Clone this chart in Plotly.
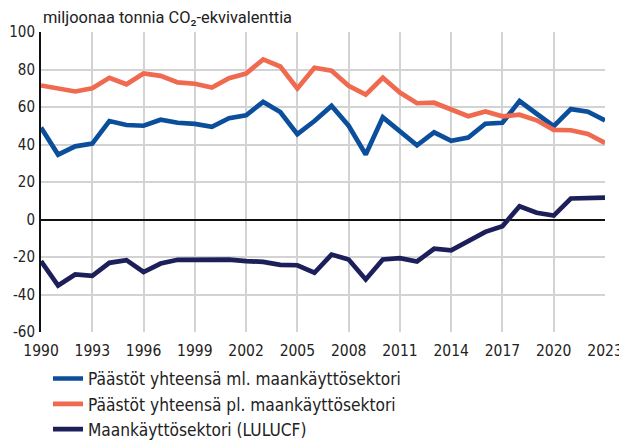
import plotly.graph_objects as go

years = list(range(1990, 2024))
x_ticks = list(range(1990, 2024, 3))
y_ticks = [-60, -40, -20, 0, 20, 40, 60, 80, 100]

# total emissions incl. land use sector
total_incl = [49.0, 34.6, 39.0, 40.5, 52.5, 50.4, 50.0, 53.2, 51.6, 51.0,
              49.4, 54.0, 55.6, 62.7, 57.3, 45.5, 52.5, 60.6, 50.0, 34.7,
              54.5, 47.2, 39.6, 46.5, 42.0, 43.7, 51.1, 51.6, 63.2, 56.4,
              49.8, 58.9, 57.5, 52.8]

# total emissions excl. land use sector
total_excl = [71.5, 69.6, 68.3, 70.0, 75.6, 72.1, 77.9, 76.6, 73.1, 72.4,
              70.4, 75.4, 77.8, 85.4, 81.6, 69.9, 80.9, 79.3, 71.3, 66.6,
              75.6, 67.7, 62.0, 62.3, 58.7, 55.1, 57.6, 55.0, 55.9, 52.9,
              47.8, 47.6, 45.6, 40.8]

# LULUCF
lulucf = [-22.2, -35.2, -29.3, -30.0, -23.1, -21.7, -28.0, -23.5, -21.5, -21.3,
          -21.0, -21.4, -22.2, -22.6, -24.2, -24.4, -28.4, -18.7, -21.3, -32.0,
          -21.3, -20.6, -22.4, -15.6, -16.5, -11.2, -6.6, -3.6, 7.1, 3.6,
          2.1, 11.2, 11.7, 11.7]

series_names = [
    "Päästöt yhteensä ml. maankäyttösektori",
    "Päästöt yhteensä pl. maankäyttösektori",
    "Maankäyttösektori (LULUCF)",
]
colors = ["#0b4f9c", "#ef6a4f", "#1d1f5b"]

narrow = "DejaVu Sans Condensed, Liberation Sans Narrow, sans-serif"

fig = go.Figure()
for name, vals, col in zip(series_names, [total_incl, total_excl, lulucf], colors):
    fig.add_trace(go.Scatter(
        x=years, y=vals, mode="lines", name=name,
        line=dict(color=col, width=4.7),
    ))

# page body has an 8px margin, so the figure is sized to fit the window
fig.update_layout(
    width=619, height=433,
    margin=dict(l=33, r=22, t=24, b=109, autoexpand=False),
    plot_bgcolor="white", paper_bgcolor="white",
    font=dict(family=narrow, size=16, color="#222"),
    showlegend=True,
    legend=dict(
        x=0.0124, y=-0.096, xanchor="left", yanchor="top",
        orientation="v", tracegroupgap=0, itemwidth=30,
        font=dict(family=narrow, size=17.2, color="#222"),
    ),
    annotations=[dict(
        text="miljoonaa tonnia CO₂-ekvivalenttia",
        xref="paper", yref="paper", x=0, y=1, xanchor="left", yanchor="bottom",
        yshift=3, showarrow=False,
        font=dict(family="Roboto, sans-serif", size=16.4, color="#222"),
    )],
)

fig.update_xaxes(
    range=[1990, 2023], tickmode="array", tickvals=x_ticks,
    showgrid=True, gridcolor="#d3d3d3", gridwidth=1.5,
    showline=False, zeroline=False, ticks="", automargin=False,
    ticklabelstandoff=7,
    tickfont=dict(family=narrow, size=15.5),
)
fig.update_yaxes(
    range=[-60, 100], tickmode="array", tickvals=y_ticks,
    ticktext=[str(v) for v in y_ticks],
    showgrid=True, gridcolor="#d3d3d3", gridwidth=1.5,
    zeroline=True, zerolinecolor="#111", zerolinewidth=1.5,
    showline=True, linecolor="#111", linewidth=2, ticks="", automargin=False,
    ticklabelstandoff=1,
    tickfont=dict(family=narrow, size=15),
)

fig.write_html("out.html")
